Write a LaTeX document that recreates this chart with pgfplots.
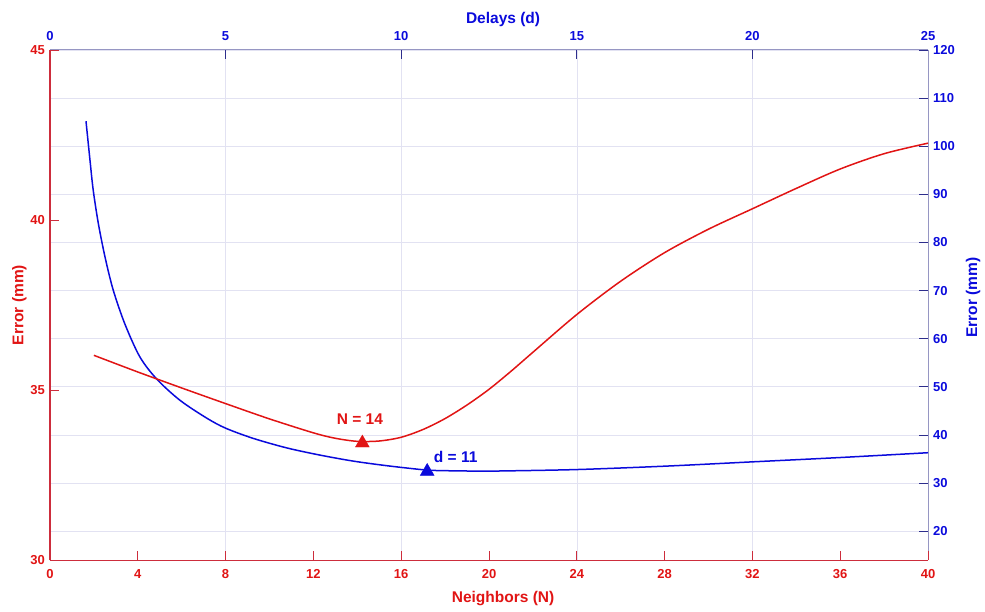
\documentclass[border=0pt]{standalone}
\usepackage{fontspec}
\setmainfont{Liberation Sans}
\usepackage{pgfplots}
\pgfplotsset{compat=1.18}

\definecolor{myred}{RGB}{225,20,20}
\definecolor{myblue}{RGB}{10,10,220}
\definecolor{gridc}{RGB}{226,226,242}
\definecolor{axblue}{RGB}{150,150,195}
\definecolor{axred}{RGB}{205,45,60}
\definecolor{tickblue}{RGB}{45,45,140}

\pgfplotsset{
  both/.style={
    scale only axis, width=878pt, height=510pt,
    /pgf/number format/assume math mode=true,
    tick align=inside, major tick length=9pt,
    separate axis lines,
    ticklabel style={font=\bfseries\fontsize{13}{15}\selectfont, inner sep=0pt},
    label style={font=\bfseries\fontsize{15.5}{18}\selectfont},
  }
}

\begin{document}
\begin{tikzpicture}
\useasboundingbox (-50pt,-51pt) rectangle (935pt,560pt);

% delays axis: top / right, carries the grid
\begin{axis}[both,
  xmin=0, xmax=25, ymin=14, ymax=120,
  axis x line*=top, axis y line*=right,
  xtick={0,5,...,25}, ytick={20,30,...,120},
  grid=major, grid style={gridc, line width=0.6pt},
  x axis line style={-, axblue, line width=1pt},
  y axis line style={-, axblue, line width=1pt},
  major tick style={tickblue, line width=0.8pt},
  xticklabel style={text=myblue, yshift=9pt},
  yticklabel style={text=myblue, xshift=5pt},
  xlabel={Delays (d)}, ylabel={Error (mm)},
  xlabel style={text=myblue, at={(axis description cs:0.516,1.0529)}, anchor=base},
  ylabel style={text=myblue, at={(axis description cs:1.0558,0.515)}, anchor=base, rotate=0},
]
\addplot[myblue, line width=1.5pt, smooth] coordinates {
  (1.025,105.2) (1.14,97.0) (1.23,90.9) (1.375,84.0) (1.566,77.0)
  (1.80,70.1) (2.135,63.0) (2.56,56.2) (3.04,51.6) (3.70,47.2)
  (4.46,43.5) (5.0,41.4) (5.79,39.27) (6.74,37.3) (7.69,35.8)
  (8.64,34.55) (9.59,33.6) (10.54,32.82) (11.0,32.6) (12.24,32.47)
  (12.81,32.5) (15.0,32.8) (17.5,33.5) (20.0,34.4) (22.5,35.3) (25.0,36.3)
};
\addplot[only marks, mark=triangle*, mark size=8pt, myblue, mark options={line width=0.4pt}]
  coordinates {(10.74,32.41)};
\node[text=myblue, font=\bfseries\fontsize{15.5}{18}\selectfont] at (axis cs:11.55,35.38) {d = 11};
\end{axis}

% neighbours axis: bottom / left
\begin{axis}[both,
  xmin=0, xmax=40, ymin=30, ymax=45,
  axis x line*=bottom, axis y line*=left,
  xtick={0,4,...,40}, ytick={30,35,40,45},
  x axis line style={-, axred, line width=1pt},
  y axis line style={-, axred, line width=1pt},
  major tick style={axred, line width=0.8pt},
  xticklabel style={text=myred, yshift=-9pt},
  yticklabel style={text=myred, xshift=-5pt},
  xlabel={Neighbors (N)}, ylabel={Error (mm)},
  xlabel style={text=myred, at={(axis description cs:0.516,-0.0824)}, anchor=base},
  ylabel style={text=myred, at={(axis description cs:-0.0302,0.5)}, anchor=base, rotate=0},
]
\addplot[myred, line width=1.5pt, smooth] coordinates {
  (2,36.02) (4,35.53) (6,35.06) (8,34.60) (10,34.15) (12,33.74)
  (13,33.58) (14,33.49) (15,33.50) (16,33.61) (17,33.84) (18,34.16)
  (19,34.56) (20,35.02) (21,35.55) (22,36.11) (24,37.22) (26,38.20)
  (28,39.04) (30,39.73) (32,40.33) (34,40.93) (36,41.50) (38,41.95)
  (40,42.26)
};
\addplot[only marks, mark=triangle*, mark size=8pt, myred, mark options={line width=0.4pt}]
  coordinates {(14.23,33.44)};
\node[text=myred, font=\bfseries\fontsize{15.5}{18}\selectfont] at (axis cs:14.12,34.15) {N = 14};
\draw[axred, line width=1.2pt] (rel axis cs:0,0) -- (rel axis cs:0,1);
\end{axis}
\end{tikzpicture}
\end{document}
